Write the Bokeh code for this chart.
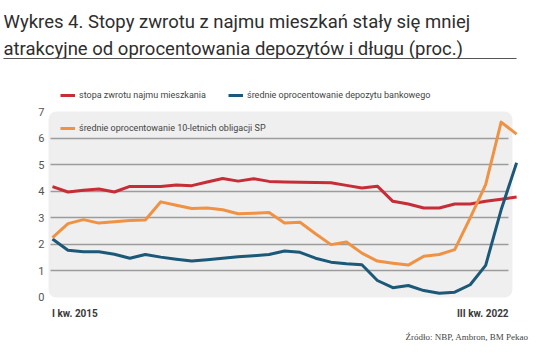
from bokeh.plotting import figure
from bokeh.models import (Range1d, FixedTicker, Label, BoxAnnotation, Legend, LegendItem,
                          ColumnDataSource)
from bokeh.embed import file_html
from bokeh.resources import INLINE

quarters = ["I kw. 2015", "II kw. 2015", "III kw. 2015", "IV kw. 2015",
            "I kw. 2016", "II kw. 2016", "III kw. 2016", "IV kw. 2016",
            "I kw. 2017", "II kw. 2017", "III kw. 2017", "IV kw. 2017",
            "I kw. 2018", "II kw. 2018", "III kw. 2018", "IV kw. 2018",
            "I kw. 2019", "II kw. 2019", "III kw. 2019", "IV kw. 2019",
            "I kw. 2020", "II kw. 2020", "III kw. 2020", "IV kw. 2020",
            "I kw. 2021", "II kw. 2021", "III kw. 2021", "IV kw. 2021",
            "I kw. 2022", "II kw. 2022", "III kw. 2022"]

rent_yield = [4.17, 3.97, 4.04, 4.08, 3.97, 4.18, 4.18, 4.18, 4.23, 4.21,
              4.35, 4.48, 4.38, 4.47, 4.37, 4.35, 4.34, 4.33, 4.32, 4.22,
              4.12, 4.19, 3.62, 3.52, 3.37, 3.37, 3.52, 3.52, 3.62, 3.70, 3.78]

deposit_rate = [2.20, 1.78, 1.72, 1.72, 1.63, 1.48, 1.62, 1.52, 1.44, 1.37,
                1.42, 1.48, 1.53, 1.57, 1.62, 1.75, 1.70, 1.48, 1.33, 1.27,
                1.23, 0.64, 0.37, 0.45, 0.26, 0.16, 0.20, 0.48, 1.21, 3.30, 5.07]

bond_yield = [2.25, 2.78, 2.93, 2.80, 2.85, 2.90, 2.92, 3.60, 3.47, 3.35,
              3.37, 3.30, 3.15, 3.17, 3.20, 2.80, 2.83, 2.40, 1.99, 2.09,
              1.67, 1.37, 1.29, 1.22, 1.55, 1.62, 1.80, 3.00, 4.25, 6.60, 6.15]

y_ticks = [0, 1, 2, 3, 4, 5, 6, 7]
grid_ticks = [1, 2, 3, 4, 5, 6]

series_names = ["stopa zwrotu najmu mieszkania",
                "średnie oprocentowanie depozytu bankowego",
                "średnie oprocentowanie 10-letnich obligacji SP"]

title_lines = ["Wykres 4. Stopy zwrotu z najmu mieszkań stały się mniej",
               "atrakcyjne od oprocentowania depozytów i długu (proc.)"]
source_text = "Źródło: NBP, Ambron, BM Pekao"

RED = "#c62d36"
BLUE = "#1c5878"
ORANGE = "#ef9244"
FONT = "Roboto"

W, H = 536, 360

src = ColumnDataSource(dict(
    x=list(range(len(quarters))), q=quarters,
    rent=rent_yield, dep=deposit_rate, bond=bond_yield))

# the frame covers the whole figure; ranges chosen so the plot box sits where it should
p = figure(width=W, height=H, min_border=0,
           x_range=Range1d(-3.3613, 31.2863), y_range=Range1d(-2.3711, 11.178),
           output_backend="svg", toolbar_location=None)
p.outline_line_color = None
p.background_fill_color = "white"
p.border_fill_color = "white"

# gray plotting box (underlay, painted before the grid)
box = BoxAnnotation(left=-0.26, right=29.73, bottom=0, top=7,
                    fill_color="#efefef", fill_alpha=1.0, line_alpha=0,
                    level="underlay")
try:
    box.border_radius = 8
except Exception:
    pass
p.renderers.append(box)

p.xaxis.visible = False
p.xgrid.visible = False
p.ygrid.ticker = FixedTicker(ticks=grid_ticks)
p.ygrid.grid_line_color = "#9c9c9c"
p.ygrid.grid_line_width = 1.4
try:
    p.ygrid.cross_bounds = (-0.13, 29.5)
except Exception:
    pass

ya = p.yaxis[0]
ya.fixed_location = -0.2586
ya.ticker = FixedTicker(ticks=y_ticks)
ya.axis_line_color = None
ya.major_tick_line_color = None
ya.minor_tick_line_color = None
ya.major_tick_in = 0
ya.major_tick_out = 0
ya.minor_tick_in = 0
ya.minor_tick_out = 0
ya.major_label_standoff = 4
ya.major_label_text_font = FONT
ya.major_label_text_font_size = "11px"
ya.major_label_text_color = "#555555"

r_rent = p.line("x", "rent", source=src, line_color=RED, line_width=3,
                line_join="round")
r_dep = p.line("x", "dep", source=src, line_color=BLUE, line_width=3,
               line_join="round")
r_bond = p.line("x", "bond", source=src, line_color=ORANGE, line_width=3,
                line_join="round")


def make_legend(name, renderer, loc):
    lg = Legend(items=[LegendItem(label=name, renderers=[renderer])],
                location=loc, orientation="horizontal", padding=0, margin=0,
                spacing=0, glyph_width=15, glyph_height=14, label_height=14,
                label_standoff=4, border_line_alpha=0,
                background_fill_alpha=0,
                label_text_font=FONT, label_text_font_size="9px",
                label_text_color="#444444")
    p.add_layout(lg, "center")


make_legend(series_names[0], r_rent, (60, 258))
make_legend(series_names[1], r_dep, (228, 258))
make_legend(series_names[2], r_bond, (60, 225))

# x-axis end labels
p.add_layout(Label(x=0, y=47.5, y_units="screen", x_offset=-0.5, text=quarters[0],
                   text_align="left", text_baseline="alphabetic",
                   text_font=FONT, text_font_style="bold",
                   text_font_size="10px", text_color="#3a3a3a"))
p.add_layout(Label(x=len(quarters) - 1, y=47.5, y_units="screen", x_offset=-8,
                   text=quarters[-1],
                   text_align="right", text_baseline="alphabetic",
                   text_font=FONT, text_font_style="bold",
                   text_font_size="10px", text_color="#3a3a3a"))

# title
p.add_layout(Label(x=3, y=H - 21, x_units="screen", y_units="screen",
                   text=title_lines[0], text_font=FONT,
                   text_font_size="18.5px", text_color="#2e2e2e",
                   text_baseline="alphabetic"))
p.add_layout(Label(x=3, y=H - 48, x_units="screen", y_units="screen",
                   text=title_lines[1], text_font=FONT,
                   text_font_size="18.5px", text_color="#2e2e2e",
                   text_baseline="alphabetic"))

# rule under title
p.add_layout(BoxAnnotation(left=3, right=516, top=H - 57.6, bottom=H - 58.6,
                           left_units="screen", right_units="screen",
                           top_units="screen", bottom_units="screen",
                           fill_color="#555555", fill_alpha=1.0, line_alpha=0))

# source
p.add_layout(Label(x=528, y=H - 336, x_units="screen", y_units="screen",
                   text=source_text, text_align="right",
                   text_baseline="alphabetic",
                   text_font="Liberation Serif", text_font_size="9px",
                   text_color="#444444"))

open("out.html", "w").write(file_html(p, INLINE))
